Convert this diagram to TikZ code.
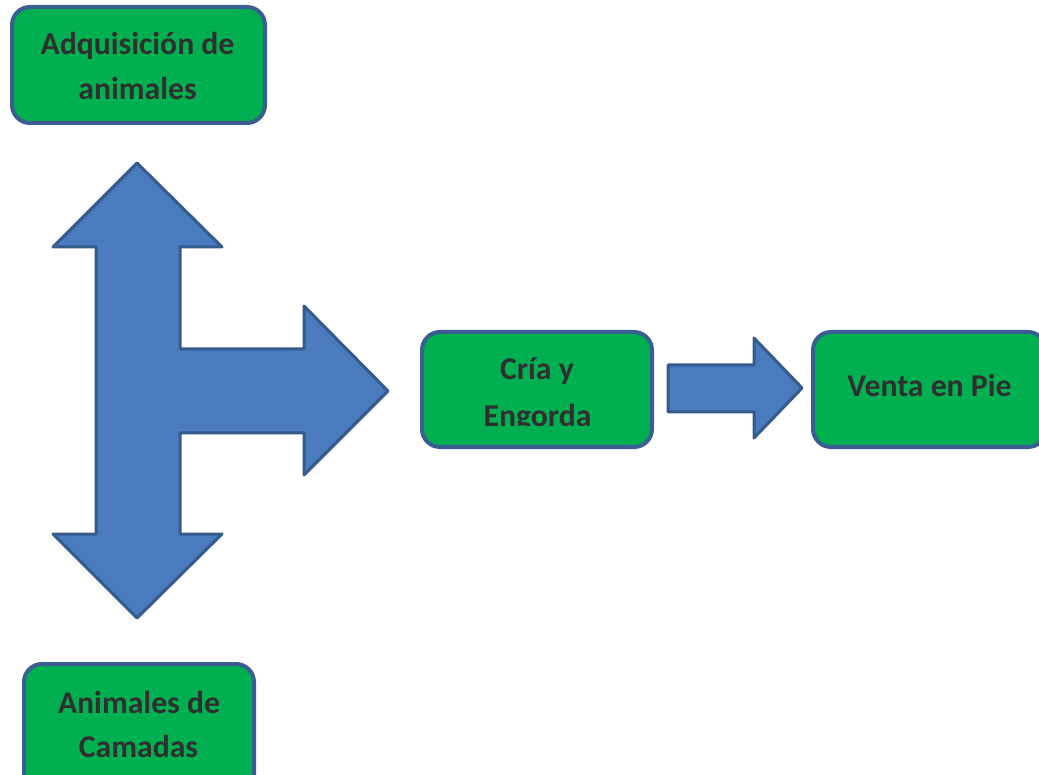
\documentclass[tikz,border=0pt]{standalone}
\usepackage{fontspec}
\setmainfont{Carlito}
\definecolor{boxgreen}{HTML}{00B050}
\definecolor{boxline}{HTML}{3A5E91}
\definecolor{arrowfill}{HTML}{4A7BBE}
\definecolor{arrowline}{HTML}{355A8C}
\definecolor{txt}{HTML}{2F2F2F}
\tikzset{
  greenbox/.style={draw=boxline, line width=4pt, fill=boxgreen, rounded corners=18pt},
  blockarrow/.style={draw=arrowline, line width=3pt, fill=arrowfill, line join=round},
  lbl/.style={anchor=base, inner sep=0pt, text=txt, font=\fontsize{31.7}{44}\selectfont\bfseries}
}
\begin{document}
\begin{tikzpicture}[x=1pt,y=-1pt]
\useasboundingbox (0,0) rectangle (1039,775);
\begin{scope}
\clip (0,0) rectangle (1039,775);
% boxes
\draw[greenbox] (12,7) rectangle (265,123);
\coordinate (adq) at (138.5,65);
\draw[greenbox] (24,664) rectangle (254,800);
\coordinate (cam) at (139,720);
\draw[greenbox] (422,332) rectangle (652,447);
\coordinate (cria) at (537,389.5);
\draw[greenbox] (813,332) rectangle (1046,447);
\coordinate (venta) at (929.5,389.5);
\end{scope}
% labels
\node[lbl] (adq1) at (137.5,55) {Adquisición de};
\node[lbl] (adq2) at (137.5,100) {animales};
\node[lbl] (cam1) at (139,713) {Animales de};
\node[lbl] (cam2) at (138.5,757) {Camadas};
\begin{scope}
\clip (422,332) rectangle (652,426);
\node[lbl] (cria1) at (537,380) {Cría y};
\node[lbl] (cria2) at (537.5,427) {Engorda};
\end{scope}
\node[lbl] (venta1) at (929.5,397) {Venta en Pie};
% big three-way arrow
\draw[blockarrow] (137,163) -- (222,247) -- (180,247) -- (180,349) -- (304,349) -- (304,306)
  -- (388,391) -- (304,475) -- (304,433) -- (180,433) -- (180,534) -- (222,534)
  -- (137,618) -- (53,534) -- (96,534) -- (96,247) -- (53,247) -- cycle;
% small arrow
\draw[blockarrow] (668,365) -- (754,365) -- (754,338) -- (802,388) -- (754,438) -- (754,412) -- (668,412) -- cycle;
\end{tikzpicture}
\end{document}
